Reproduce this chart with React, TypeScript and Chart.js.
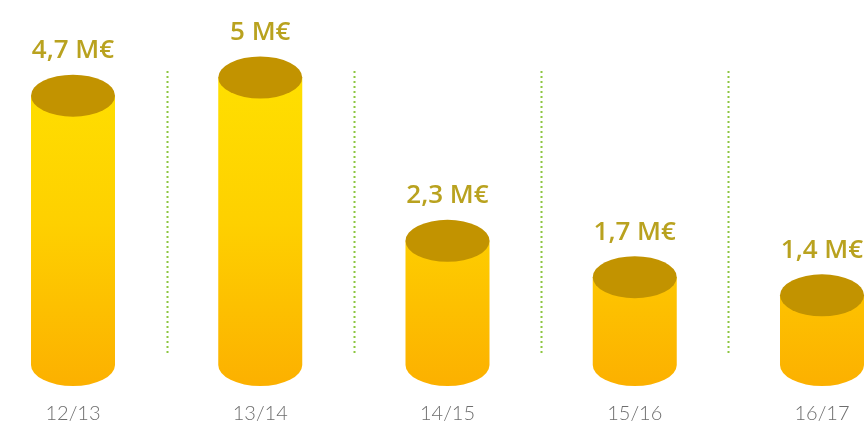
import React, { useEffect, useRef } from "react";
import { Chart, registerables } from "chart.js";

Chart.register(...registerables);

const categories = ["12/13", "13/14", "14/15", "15/16", "16/17"];
const values = [4.7, 5, 2.3, 1.7, 1.4];
const valueLabels = ["4,7 M€", "5 M€", "2,3 M€", "1,7 M€", "1,4 M€"];

const cylinderPlugin = {
  id: "cylinders",
  afterDatasetsDraw(chart: any) {
    const ctx = chart.ctx as CanvasRenderingContext2D;
    const meta = chart.getDatasetMeta(0);
    const els = meta.data as any[];

    // dotted separators between categories
    ctx.save();
    ctx.strokeStyle = "#8cc63f";
    ctx.lineWidth = 2;
    ctx.setLineDash([2, 3]);
    for (let i = 0; i < els.length - 1; i++) {
      const mx = Math.round((els[i].x + els[i + 1].x) / 2) + 0.5;
      ctx.beginPath();
      ctx.moveTo(mx, 71);
      ctx.lineTo(mx, 356);
      ctx.stroke();
    }
    ctx.restore();

    const grad = ctx.createLinearGradient(0, 60, 0, 388);
    grad.addColorStop(0, "#ffe100");
    grad.addColorStop(0.5, "#fed000");
    grad.addColorStop(1, "#fcb000");

    els.forEach((el: any, i: number) => {
      const cx = el.x;
      const rx = el.width / 2;
      const ry = 21;
      const topY = el.y;
      const botY = el.base - 15;
      ctx.save();
      ctx.fillStyle = grad;
      ctx.beginPath();
      ctx.moveTo(cx - rx, topY);
      ctx.lineTo(cx - rx, botY);
      ctx.ellipse(cx, botY, rx, ry, 0, Math.PI, 0, true);
      ctx.lineTo(cx + rx, topY);
      ctx.closePath();
      ctx.fill();
      ctx.fillStyle = "#c29300";
      ctx.beginPath();
      ctx.ellipse(cx, topY, rx, ry, 0, 0, Math.PI * 2);
      ctx.fill();
      ctx.fillStyle = "#b9a21f";
      ctx.font = "600 26px 'Open Sans'";
      ctx.textAlign = "center";
      ctx.textBaseline = "middle";
      ctx.fillText(valueLabels[i], cx, topY - 45);
      ctx.restore();
    });
  },
};

export default function App() {
  const ref = useRef<HTMLCanvasElement | null>(null);
  useEffect(() => {
    if (!ref.current) return;
    const chart = new Chart(ref.current, {
      type: "bar",
      data: {
        labels: categories,
        datasets: [
          {
            data: values,
            backgroundColor: "rgba(0,0,0,0)",
            borderWidth: 0,
            barThickness: 84,
          },
        ],
      },
      options: {
        animation: false,
        responsive: false,
        devicePixelRatio: 1,
        layout: { padding: { left: 73, right: 45, top: 17, bottom: 1 } },
        plugins: { legend: { display: false }, tooltip: { enabled: false } },
        scales: {
          x: {
            offset: false,
            grid: { display: false },
            border: { display: false },
            ticks: {
              color: "#6e6e6e",
              padding: 14,
              font: { family: "Lato", weight: 300, size: 20 },
              maxRotation: 0,
              autoSkip: false,
            },
            afterFit: (s: any) => {
              s.height = 45;
              s.paddingLeft = 0;
              s.paddingRight = 0;
            },
          },
          y: {
            display: false,
            min: 0,
            max: 6,
          },
        },
      },
      plugins: [cylinderPlugin],
    });
    return () => chart.destroy();
  }, []);
  return (
    <div style={{ position: "absolute", left: 0, top: 0, width: 867, height: 426, background: "#fff" }}>
      <canvas ref={ref} width={867} height={426} style={{ width: 867, height: 426 }} />
    </div>
  );
}
